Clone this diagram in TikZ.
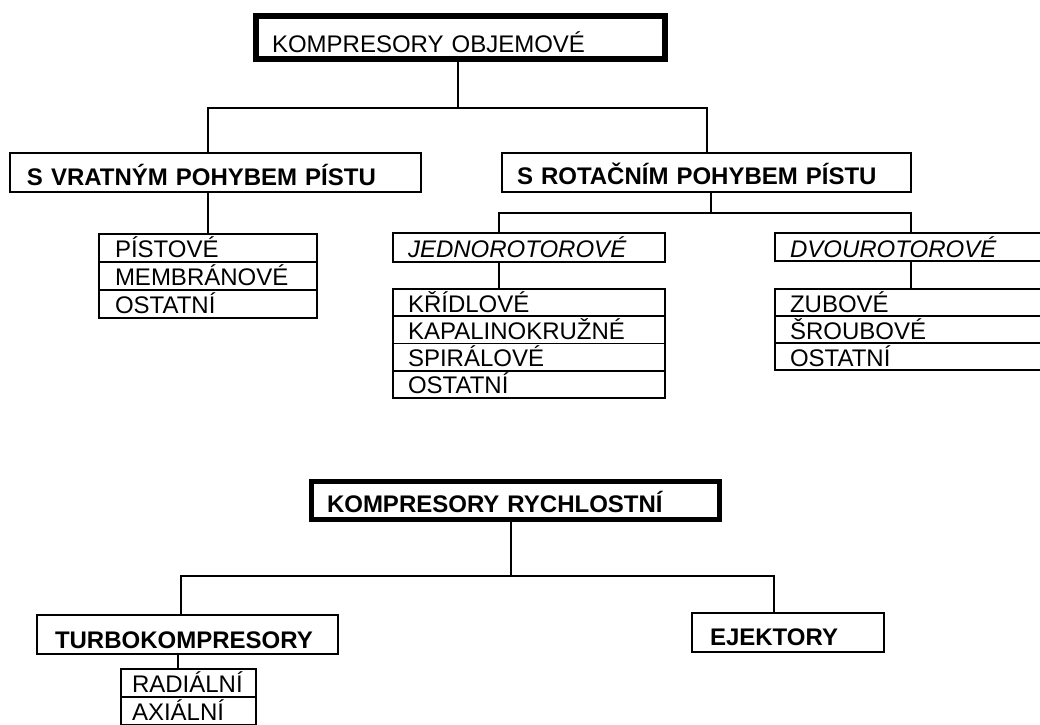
\documentclass[tikz,border=0pt]{standalone}
\usepackage{fontspec}
\setmainfont{Liberation Sans}
\usetikzlibrary{positioning}

\newcommand{\velke}{\fontsize{24}{26}\selectfont}

\tikzset{
  hlavni/.style={draw, line width=6pt, outer sep=0pt, anchor=north west, align=left, inner ysep=0pt, text depth=0pt, font=\velke},
  skupina/.style={draw, line width=2pt, outer sep=0pt, anchor=north west, align=left, inner ysep=0pt, text depth=0pt, font=\velke\bfseries},
  druh/.style={draw, line width=2pt, outer sep=0pt, anchor=north west, align=left, inner ysep=0pt, text depth=0pt, font=\velke\itshape},
  polozka/.style={draw, line width=1.8pt, outer sep=0pt, align=left, inner ysep=0pt, text depth=0pt, font=\velke},
  spoj/.style={line width=2pt}
}

\begin{document}
\begin{tikzpicture}[x=1pt,y=-1pt]
  \useasboundingbox (0,0) rectangle (1040,724);

  % objemove
  \node[hlavni, inner xsep=16pt, text width=377pt, minimum height=43pt, text height=29pt] (objem) at (256,16) {KOMPRESORY OBJEMOVÉ};

  \node[skupina, inner xsep=17pt, text width=377pt, minimum height=39pt, text height=25pt] (vratny) at (10,153) {S VRATNÝM POHYBEM PÍSTU};
  \node[skupina, inner xsep=15pt, text width=379pt, minimum height=39pt, text height=23pt] (rotacni) at (502,153) {S ROTAČNÍM POHYBEM PÍSTU};

  \tikzset{seznamA/.style={polozka, inner xsep=16pt, text width=186pt, minimum height=28pt, text height=18pt}}
  \node[seznamA, anchor=north west] (pistove) at (99,234) {PÍSTOVÉ};
  \node[seznamA] (membranove) [below=0pt of pistove] {MEMBRÁNOVÉ};
  \node[seznamA] (ostatni1) [below=0pt of membranove] {OSTATNÍ};

  \node[druh, inner xsep=15pt, text width=242pt, minimum height=29pt, text height=19pt] (jedno) at (393,233) {JEDNOROTOROVÉ};
  \node[druh, inner xsep=15pt, text width=242pt, minimum height=28pt, text height=20pt] (dvou) at (775,233) {DVOUROTOROVÉ};

  \tikzset{seznamB/.style={polozka, inner xsep=15pt, text width=242pt, minimum height=27.25pt, text height=18.75pt}}
  \node[seznamB, anchor=north west] (kridlove) at (393,289) {KŘÍDLOVÉ};
  \node[seznamB] (kapalinokruzne) [below=0pt of kridlove] {KAPALINOKRUŽNÉ};
  \node[seznamB] (spiralove) [below=0pt of kapalinokruzne] {SPIRÁLOVÉ};
  \node[seznamB] (ostatni2) [below=0pt of spiralove] {OSTATNÍ};

  \tikzset{seznamC/.style={polozka, inner xsep=15pt, text width=242pt, minimum height=27pt, text height=19pt}}
  \node[seznamC, anchor=north west] (zubove) at (775,289) {ZUBOVÉ};
  \node[seznamC] (sroubove) [below=0pt of zubove] {ŠROUBOVÉ};
  \node[seznamC] (ostatni3) [below=0pt of sroubove] {OSTATNÍ};

  \coordinate (r1) at (458,108);
  \draw[spoj] (objem.south -| r1) -- (r1);
  \draw[spoj] ([xshift=-8pt]vratny.north) |- (r1) -| (rotacni.north);
  \draw[spoj] (vratny.south -| pistove.north) -- (pistove.north);

  \coordinate (r2) at (711,213);
  \draw[spoj] (rotacni.south -| r2) -- (r2);
  \draw[spoj] ([xshift=-30pt]jedno.north) |- (r2) -| (dvou.north);
  \draw[spoj] ([xshift=-30pt]jedno.south) -- ([xshift=-30pt]kridlove.north);
  \draw[spoj] (dvou.south) -- (zubove.north);

  % rychlostni
  \node[hlavni, line width=5pt, font=\velke\bfseries, inner xsep=16pt, text width=376pt, minimum height=38pt, text height=24pt] (rychl) at (311,481) {KOMPRESORY RYCHLOSTNÍ};

  \node[skupina, inner xsep=18pt, text width=265pt, minimum height=39pt, text height=27pt] (turbo) at (37,615) {TURBOKOMPRESORY};
  \node[skupina, inner xsep=18pt, text width=156pt, minimum height=39pt, text height=25pt] (ejektory) at (692,613) {EJEKTORY};

  \tikzset{seznamD/.style={polozka, inner xsep=11pt, text width=113pt, minimum height=28pt, text height=19pt}}
  \node[seznamD, anchor=north west] (radialni) at (121,669) {RADIÁLNÍ};
  \node[seznamD] (axialni) [below=0pt of radialni] {AXIÁLNÍ};

  \coordinate (r3) at (511,576);
  \draw[spoj] (rychl.south -| r3) -- (r3);
  \draw[spoj] ([xshift=-7pt]turbo.north) |- (r3) -| ([xshift=-14pt]ejektory.north);
  \draw[spoj] ([xshift=-11pt]radialni.north |- turbo.south) -- ([xshift=-11pt]radialni.north);
\end{tikzpicture}
\end{document}
